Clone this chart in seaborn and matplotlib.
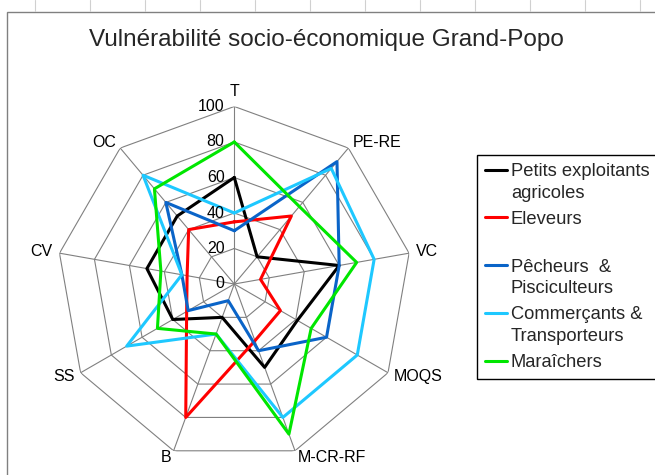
import matplotlib
matplotlib.use("Agg")
import matplotlib.pyplot as plt
from matplotlib.patches import Rectangle
from matplotlib.lines import Line2D
import numpy as np
import pandas as pd
import seaborn as sns

# axes of the radar, clockwise from the top
axes_names = ["T", "PE-RE", "VC", "MOQS", "M-CR-RF", "B", "SS", "CV", "OC"]
rings = [0, 20, 40, 60, 80, 100]

groups = ["Petits exploitants agricoles", "Eleveurs", "Pêcheurs & Pisciculteurs",
          "Commerçants & Transporteurs", "Maraîchers"]
legend_labels = ["Petits exploitants\nagricoles", "Eleveurs\n ", "Pêcheurs  &\nPisciculteurs",
                 "Commerçants &\nTransporteurs", "Maraîchers"]
colors = ["#000000", "#ff0000", "#0a64c8", "#1ec8ff", "#00e600"]

petits = [60, 20, 60, 41, 50, 20, 40, 50, 50]
eleveurs = [35, 50, 15, 30, 34, 80, 31, 27, 40]
pecheurs = [30, 90, 60, 60, 40, 10, 30, 30, 60]
commercants = [40, 85, 80, 80, 80, 30, 70, 30, 80]
maraichers = [80, 57, 70, 50, 90, 30, 50, 42, 70]
series = [petits, eleveurs, pecheurs, commercants, maraichers]

n = len(axes_names)
angles = np.linspace(0, 2 * np.pi, n, endpoint=False)
closed = np.append(angles, angles[0] + 2 * np.pi)

rows = []
for g, vals in zip(groups, series):
    for a, v in zip(closed, vals + vals[:1]):
        rows.append({"angle": a, "value": v, "group": g})
df = pd.DataFrame(rows)

sns.set_theme(style="white")
plt.rcParams["font.family"] = ["Liberation Sans", "DejaVu Sans"]

fig = plt.figure(figsize=(6.55, 4.75), dpi=100)
fig.patch.set_facecolor("white")
ax = fig.add_axes([56.8 / 655, 13.5 / 475, 355 / 655, 355 / 475], projection="polar")
ax.set_theta_zero_location("N")
ax.set_theta_direction(-1)
ax.grid(False)
ax.spines["polar"].set_visible(False)
ax.set_facecolor("white")

# polygon grid and spokes
for r in rings:
    ax.plot(closed, [r] * (n + 1), color="#808080", lw=0.8, zorder=1)
for a in angles:
    ax.plot([a, a], [0, 100], color="#808080", lw=0.8, zorder=1)

sns.lineplot(data=df, x="angle", y="value", hue="group", hue_order=groups,
             palette=colors, sort=False, estimator=None, linewidth=2.2, ax=ax, zorder=3)

ax.set_ylim(0, 100)
ax.set_xticks([])
ax.set_yticks([])
ax.set_xlabel("")
ax.set_ylabel("")

for a, name in zip(angles, axes_names):
    s, c = np.sin(a), np.cos(a)
    ha = "left" if s > 0.1 else ("right" if s < -0.1 else "center")
    va = "bottom" if c > 0.95 else "center"
    ax.text(a, 104, name, ha=ha, va=va, fontsize=11.5, color="black")

for r in rings:
    ax.annotate(str(r), xy=(0, r), xytext=(-7, 0), textcoords="offset points",
                ha="right", va="center", fontsize=11.5, color="black")

handles, _ = ax.get_legend_handles_labels()
ax.get_legend().remove()
leg = fig.legend(handles, legend_labels, loc="upper left",
                 bbox_to_anchor=(477 / 655, 1 - 155 / 475), frameon=True, fancybox=False,
                 edgecolor="black", framealpha=1, fontsize=13.2, handlelength=1.2,
                 handletextpad=0.2, borderpad=0.45, labelspacing=0.5, borderaxespad=0)
leg.get_frame().set_linewidth(1)
for t in leg.get_texts():
    t.set_linespacing(1.35)
# handle on the first line of each entry, like the original
for col in leg._legend_handle_box.get_children():
    for item in col.get_children():
        item.align = "top"

fig.text(326 / 655, 1 - 40 / 475, "Vulnérabilité socio-économique Grand-Popo",
         ha="center", va="center", fontsize=17.5)

# sheet background: chart border and faint cell lines
fig.patches.append(Rectangle((7 / 655, -0.1), 1.2, 1.1 - 12 / 475, transform=fig.transFigure,
                             fill=False, edgecolor="#808080", lw=1))
for x in range(35, 655, 55):
    fig.add_artist(Line2D([x / 655, x / 655], [1 - 11 / 475, 1], transform=fig.transFigure,
                          color="#d0d0d0", lw=0.8))

fig.savefig("out.png", dpi=100)
